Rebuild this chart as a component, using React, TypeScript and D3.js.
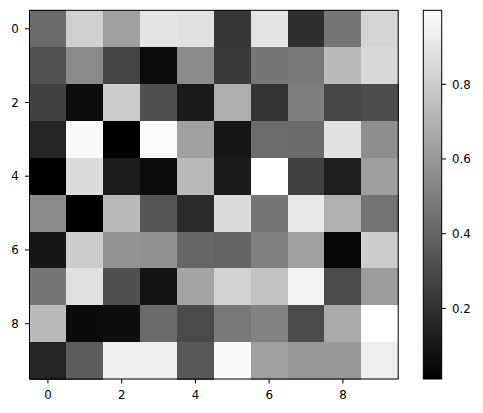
import React from "react";
import * as d3 from "d3";

const rows = [0, 1, 2, 3, 4, 5, 6, 7, 8, 9];
const cols = [0, 1, 2, 3, 4, 5, 6, 7, 8, 9];
const axisTicks = [0, 2, 4, 6, 8];
const colorbarTicks = [0.2, 0.4, 0.6, 0.8];

const row0 = [0.421, 0.816, 0.63, 0.893, 0.886, 0.22, 0.893, 0.189, 0.468, 0.835];
const row1 = [0.328, 0.545, 0.274, 0.057, 0.553, 0.235, 0.468, 0.483, 0.731, 0.847];
const row2 = [0.259, 0.057, 0.8, 0.321, 0.112, 0.684, 0.212, 0.499, 0.282, 0.305];
const row3 = [0.15, 0.979, 0.011, 0.986, 0.63, 0.096, 0.429, 0.421, 0.886, 0.561];
const row4 = [0.011, 0.862, 0.119, 0.057, 0.731, 0.112, 0.998, 0.259, 0.127, 0.622];
const row5 = [0.545, 0.011, 0.731, 0.344, 0.174, 0.862, 0.46, 0.909, 0.692, 0.46];
const row6 = [0.096, 0.8, 0.584, 0.576, 0.406, 0.398, 0.506, 0.638, 0.034, 0.8];
const row7 = [0.468, 0.878, 0.321, 0.088, 0.646, 0.824, 0.762, 0.948, 0.297, 0.615];
const row8 = [0.731, 0.05, 0.065, 0.421, 0.297, 0.475, 0.514, 0.297, 0.669, 0.998];
const row9 = [0.15, 0.367, 0.932, 0.932, 0.352, 0.979, 0.63, 0.599, 0.599, 0.932];

const matrix = [row0, row1, row2, row3, row4, row5, row6, row7, row8, row9];

export default function App() {
  const W = 483;
  const H = 413;
  const left = 29.5;
  const top = 10.3;
  const size = 368.7;
  const allVals = matrix.flat();
  const [vmin, vmax] = d3.extent(allVals) as [number, number];

  const x = d3.scaleLinear().domain([-0.5, 9.5]).range([left, left + size]);
  const y = d3.scaleLinear().domain([-0.5, 9.5]).range([top, top + size]);
  const color = d3
    .scaleLinear<string>()
    .domain([vmin, vmax])
    .range(["#000000", "#ffffff"])
    .interpolate(d3.interpolateRgb);

  const cbX0 = 423.3;
  const cbX1 = 441.7;
  const cbY = d3.scaleLinear().domain([vmin, vmax]).range([top + size, top]);

  const font = "DejaVu Sans, sans-serif";
  const fs = 11.8;
  const tl = 4.5;

  return (
    <svg
      width={W}
      height={H}
      style={{ position: "absolute", left: 0, top: 0, background: "#fff" }}
    >
      <defs>
        <linearGradient id="cbgrad" x1="0" y1="1" x2="0" y2="0">
          <stop offset="0%" stopColor={color(vmin)} />
          <stop offset="100%" stopColor={color(vmax)} />
        </linearGradient>
      </defs>
      <g shapeRendering="crispEdges">
        {rows.map((r) =>
          cols.map((c) => (
            <rect
              key={`${r}-${c}`}
              x={x(c - 0.5)}
              y={y(r - 0.5)}
              width={x(c + 0.5) - x(c - 0.5) + 0.5}
              height={y(r + 0.5) - y(r - 0.5) + 0.5}
              fill={color(matrix[r][c])}
            />
          ))
        )}
      </g>
      <rect
        x={left}
        y={top}
        width={size}
        height={size}
        fill="none"
        stroke="#000"
        strokeWidth={1}
      />
      {axisTicks.map((t) => (
        <g key={`x${t}`}>
          <line
            x1={x(t)}
            x2={x(t)}
            y1={top + size}
            y2={top + size + tl}
            stroke="#000"
            strokeWidth={1}
          />
          <text
            x={x(t)}
            y={top + size + 20.3}
            textAnchor="middle"
            fontFamily={font}
            fontSize={fs}
            fill="#000"
          >
            {t}
          </text>
        </g>
      ))}
      {axisTicks.map((t) => (
        <g key={`y${t}`}>
          <line
            x1={left - tl}
            x2={left}
            y1={y(t)}
            y2={y(t)}
            stroke="#000"
            strokeWidth={1}
          />
          <text
            x={18.8}
            y={y(t)}
            dy="0.36em"
            textAnchor="end"
            fontFamily={font}
            fontSize={fs}
            fill="#000"
          >
            {t}
          </text>
        </g>
      ))}
      <rect
        x={cbX0}
        y={top}
        width={cbX1 - cbX0}
        height={size}
        fill="url(#cbgrad)"
        stroke="#000"
        strokeWidth={1}
      />
      {colorbarTicks.map((t) => (
        <g key={`cb${t}`}>
          <line
            x1={cbX1}
            x2={cbX1 + tl}
            y1={cbY(t)}
            y2={cbY(t)}
            stroke="#000"
            strokeWidth={1}
          />
          <text
            x={cbX1 + 10.2}
            y={cbY(t)}
            dy="0.36em"
            textAnchor="start"
            fontFamily={font}
            fontSize={fs}
            fill="#000"
          >
            {t.toFixed(1)}
          </text>
        </g>
      ))}
    </svg>
  );
}
